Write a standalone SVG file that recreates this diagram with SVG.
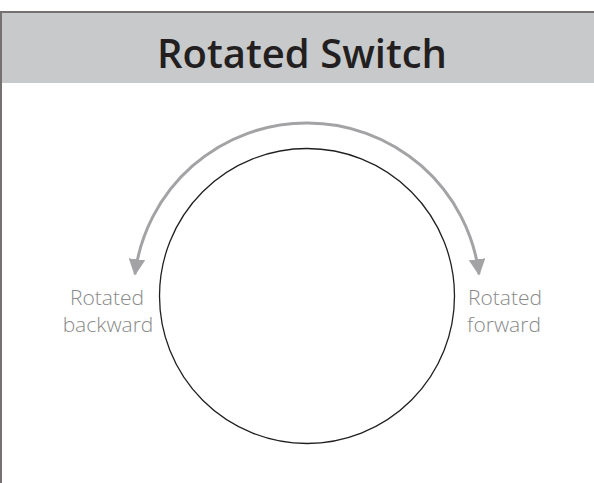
<svg xmlns="http://www.w3.org/2000/svg" width="594" height="483" viewBox="0 0 594 483">
<style>
.lbl{font-family:"Open Sans","Liberation Sans",sans-serif;font-size:21px;fill:#8a8a8a;text-anchor:middle;font-weight:300}
.title{font-family:"Open Sans","Liberation Sans",sans-serif;font-size:40px;font-weight:600;fill:#231f20;text-anchor:middle}
.arc{fill:none;stroke:#a3a3a6;stroke-width:3}
</style>
<defs>
<marker id="ah" viewBox="0 0 10 10" refX="9" refY="5" markerWidth="5.5" markerHeight="5.5" orient="auto" markerUnits="strokeWidth">
<path d="M0,0 L10,5 L0,10 z" fill="#a3a3a6"/>
</marker>
</defs>
<rect x="0" y="0" width="594" height="483" fill="#ffffff"/>
<g id="frame">
<rect x="1" y="12" width="600" height="71" fill="#c8c9cb"/>
<path d="M1,483 L1,12 L594,12" fill="none" stroke="#757170" stroke-width="2"/>
<text class="title" x="302" y="68">Rotated Switch</text>
</g>
<g id="switch">
<circle cx="307" cy="296" r="147.5" fill="none" stroke="#231f20" stroke-width="1.3"/>
</g>
<g id="connectors">
<path class="arc" d="M307,123 A173,173 0 0 0 135,274" marker-end="url(#ah)"/>
<path class="arc" d="M307,123 A173,173 0 0 1 479,274" marker-end="url(#ah)"/>
</g>
<g id="label-backward">
<text class="lbl" x="107" y="305">Rotated</text>
<text class="lbl" x="108" y="332">backward</text>
</g>
<g id="label-forward">
<text class="lbl" x="505" y="305">Rotated</text>
<text class="lbl" x="504" y="332">forward</text>
</g>
</svg>
